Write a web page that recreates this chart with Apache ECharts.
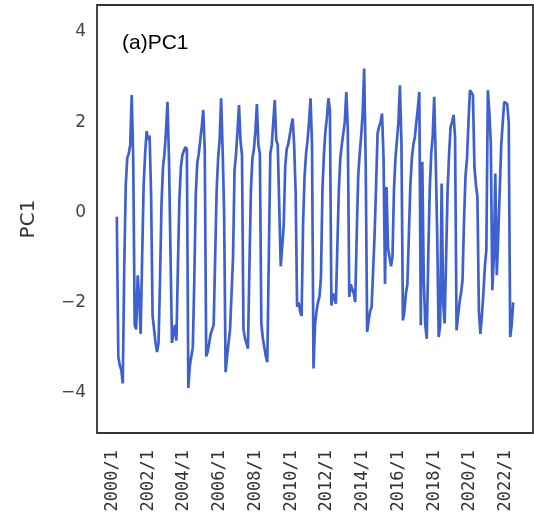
<!DOCTYPE html>
<html>
<head>
<meta charset="utf-8">
<script src="https://cdn.jsdelivr.net/npm/echarts@6/dist/echarts.min.js"></script>
<style>
html,body{margin:0;padding:0;background:#fff;}
#chart{width:534px;height:530px;}
</style>
</head>
<body>
<div id="chart"></div>
<script>
// Monthly PC1 values, April 2000 to June 2022 (one array per calendar year)
const pc1_2000 = [-0.1, -3.2, -3.4, -3.5, -3.8, -1.2, 0.6, 1.2, 1.3]; // Apr-Dec
const pc1_2001 = [1.5, 2.6, 1.2, -2.5, -2.6, -1.4, -1.9, -2.7, -1.0, 0.6, 1.3, 1.8];
const pc1_2002 = [1.6, 1.7, 0.4, -2.3, -2.6, -2.9, -3.1, -2.9, -1.5, 0.2, 1.0, 1.3];
const pc1_2003 = [1.8, 2.45, 1.2, -0.85, -2.9, -2.7, -2.5, -2.85, -1.2, 0.3, 1.0, 1.27];
const pc1_2004 = [1.3, 1.45, 1.4, -3.9, -3.4, -3.2, -3.0, -1.5, 0.4, 1.1, 1.3, 1.6];
const pc1_2005 = [1.9, 2.27, 1.4, -3.2, -3.1, -2.9, -2.7, -2.6, -2.5, -1.0, 0.5, 1.2];
const pc1_2006 = [1.6, 2.53, 1.4, 0.0, -3.55, -3.2, -2.9, -2.6, -2.6, -1.0, 0.93, 1.3];
const pc1_2007 = [1.8, 2.38, 1.6, 1.27, -2.6, -2.8, -2.9, -3.03, -1.2, 0.5, 1.2, 1.4];
const pc1_2008 = [1.8, 2.4, 1.5, 1.3, -2.47, -2.8, -3.0, -3.2, -3.33, -1.0, 1.3, 1.5];
const pc1_2009 = [2.0, 2.49, 1.6, 1.5, 1.5, -1.2, -1.2, -0.3, 1.0, 1.4, 1.5, 1.7];
const pc1_2010 = [1.9, 2.08, 1.5, 0.45, -2.1, -2.0, -2.2, -2.3, -0.25, 0.8, 1.3, 1.6];
const pc1_2011 = [2.0, 2.53, 1.5, -3.47, -2.5, -2.2, -2.0, -1.88, -1.44, 0.5, 1.3, 1.8];
const pc1_2012 = [2.1, 2.53, 2.27, -2.07, -1.8, -1.9, -2.03, -0.77, 0.5, 1.2, 1.5, 1.75];
const pc1_2013 = [2.0, 2.67, 1.86, -1.88, -1.6, -1.7, -1.8, -1.99, -0.5, 0.8, 1.3, 1.7];
const pc1_2014 = [2.2, 3.19, 1.15, -2.66, -2.4, -2.2, -2.1, -2.1, -0.5, 0.6, 1.75, 1.9];
const pc1_2015 = [2.0, 2.19, 1.2, -1.59, 0.56, -0.8, -1.0, -1.2, -0.99, 0.5, 1.2, 1.6];
const pc1_2016 = [2.0, 2.82, 1.56, -2.4, -2.2, -1.8, -1.6, -0.5, 0.6, 1.2, 1.5, 1.67];
const pc1_2017 = [2.0, 2.3, 2.67, -2.51, 1.12, -1.5, -2.5, -2.81, -1.0, 0.5, 1.3, 1.7];
const pc1_2018 = [2.56, 1.2, -0.5, -2.77, -2.5, 0.64, -2.0, -2.47, -1.0, 0.5, 1.3, 1.9];
const pc1_2019 = [2.0, 2.16, 1.67, -2.62, -2.3, -2.0, -1.8, -1.51, -0.2, 0.8, 1.19, 2.0];
const pc1_2020 = [2.71, 2.65, 2.6, 1.0, 0.6, 0.34, -2.2, -2.7, -2.3, -1.8, -1.2, -0.84];
const pc1_2021 = [2.71, 2.23, 1.5, -1.73, -1.0, 0.86, -1.4, -0.5, 0.5, 1.5, 2.0, 2.45];
const pc1_2022 = [2.45, 2.4, 2.0, -2.77, -2.5, -2.0]; // Jan-Jun

const years = [pc1_2000, pc1_2001, pc1_2002, pc1_2003, pc1_2004, pc1_2005, pc1_2006, pc1_2007,
  pc1_2008, pc1_2009, pc1_2010, pc1_2011, pc1_2012, pc1_2013, pc1_2014, pc1_2015,
  pc1_2016, pc1_2017, pc1_2018, pc1_2019, pc1_2020, pc1_2021, pc1_2022];
const startYear = 2000;
const startMonth = 4;

const xTickLabels = ['2000/1','2002/1','2004/1','2006/1','2008/1','2010/1','2012/1','2014/1','2016/1','2018/1','2020/1','2022/1'];
const yTickValues = [-4, -2, 0, 2, 4];
const yRange = [-4.9, 4.6];

// month index since 2000/1
const data = [];
years.forEach((arr, yi) => {
  const m0 = yi === 0 ? startMonth - 1 : 0;
  arr.forEach((v, k) => data.push([yi * 12 + m0 + k, v]));
});
const firstIdx = data[0][0];
const lastIdx = data[data.length - 1][0];
const pad = (lastIdx - firstIdx) * 0.05;
const labelPos = {};
xTickLabels.forEach(l => {
  const [y, m] = l.split('/').map(Number);
  labelPos[(y - startYear) * 12 + (m - 1)] = l;
});

const chart = echarts.init(document.getElementById('chart'), null, {renderer: 'canvas'});
chart.setOption({
  animation: false,
  backgroundColor: '#ffffff',
  grid: {left: 97, right: 1, top: 5, bottom: 97, show: true, borderColor: '#333', borderWidth: 1.8, backgroundColor: 'transparent'},
  title: {
    text: '(a)PC1', left: 122, top: 33, padding: 0,
    textStyle: {fontFamily: 'Liberation Sans', fontSize: 21, fontWeight: 'normal', color: '#000'}
  },
  xAxis: {
    type: 'value', min: firstIdx - pad, max: lastIdx + pad,
    axisLine: {show: false}, axisTick: {show: false}, splitLine: {show: false},
    axisLabel: {
      customValues: Object.keys(labelPos).map(Number),
      rotate: 90, margin: 17, fontFamily: 'DejaVu Sans Mono', fontSize: 17, color: '#333',
      formatter: v => labelPos[Math.round(v)] || ''
    }
  },
  yAxis: {
    type: 'value', min: yRange[0], max: yRange[1],
    name: 'PC1', nameLocation: 'middle', nameGap: 58, nameRotate: 90,
    nameTextStyle: {fontFamily: 'DejaVu Sans', fontSize: 20, color: '#333'},
    axisLine: {show: false}, axisTick: {show: false}, splitLine: {show: false},
    axisLabel: {
      customValues: yTickValues, margin: 11,
      fontFamily: 'DejaVu Sans', fontSize: 17, color: '#444',
      formatter: v => (v < 0 ? '\u2212' + Math.abs(v) : String(v))
    }
  },
  series: [{
    type: 'line', data: data, showSymbol: false, symbol: 'none',
    lineStyle: {color: '#3f61d0', width: 2.7}, clip: true
  }]
});
</script>
</body>
</html>
